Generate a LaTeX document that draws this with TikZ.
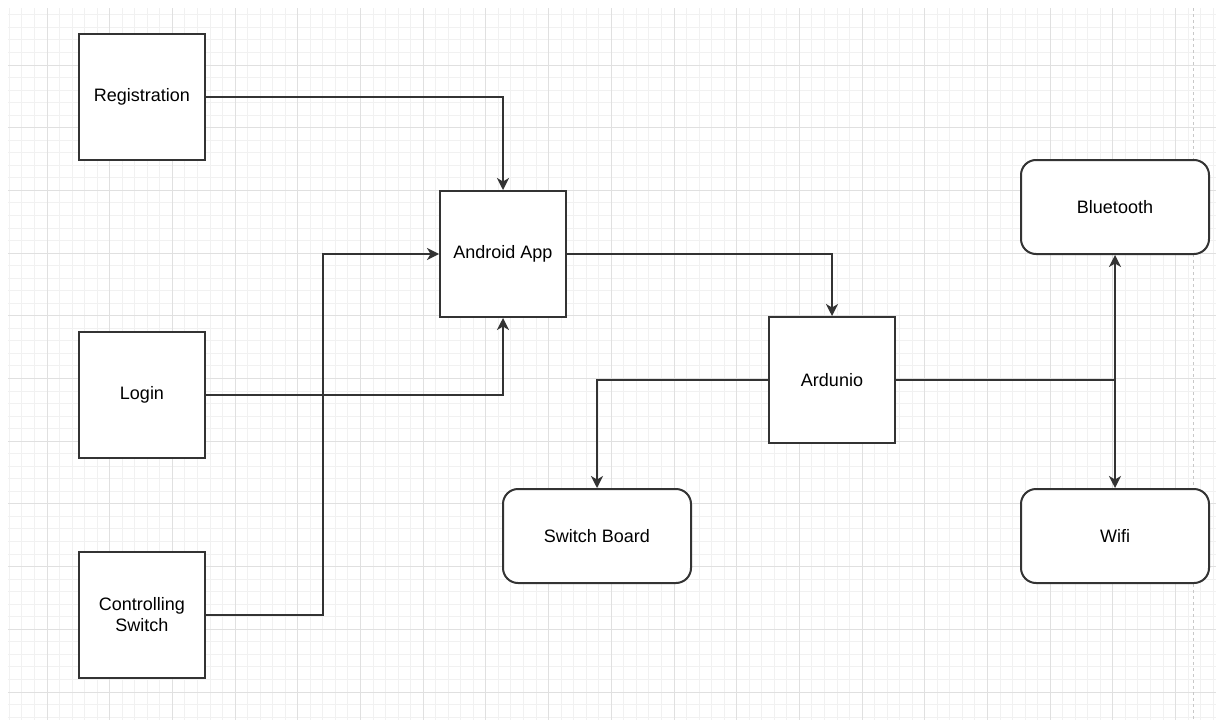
\documentclass[tikz,border=0pt]{standalone}
\usepackage{fontspec}
\setmainfont{Liberation Sans}
\usetikzlibrary{arrows.meta}
\definecolor{minorgrid}{HTML}{F1F1F1}
\definecolor{majorgrid}{HTML}{E0E0E0}
\definecolor{edgecol}{HTML}{333333}
\definecolor{pagedash}{HTML}{C8C8C8}
\tikzset{
  box/.style={draw=edgecol, line width=2pt, fill=white, minimum width=126pt, minimum height=126pt,
    inner sep=0pt, font=\fontsize{18}{21}\selectfont, align=center},
  rbox/.style={box, rounded corners=15pt, minimum width=188pt, minimum height=94pt},
  tip/.tip={Stealth[length=12pt,width=12pt,inset=3.5pt]},
  link/.style={draw=edgecol, line width=1.5pt, -tip},
  plainlink/.style={draw=edgecol, line width=1.5pt},
  bothlink/.style={draw=edgecol, line width=1.5pt, tip-tip},
}
\begin{document}
\begin{tikzpicture}[x=1pt,y=-1pt]
\useasboundingbox (0,0) rectangle (1216,720);
\fill[white] (0,0) rectangle (1216,720);
\begin{scope}
  \clip (8,8) rectangle (1216,720);
  \foreach \i in {-3,...,93} {
    \draw[minorgrid, line width=1pt] ({47+12.54*\i},8) -- ({47+12.54*\i},720);
  }
  \foreach \j in {-5,...,53} {
    \draw[minorgrid, line width=1pt] (8,{65+12.54*\j}) -- (1216,{65+12.54*\j});
  }
  \foreach \i in {0,...,18} {
    \draw[majorgrid, line width=1pt] ({47+62.7*\i},8) -- ({47+62.7*\i},720);
  }
  \foreach \j in {-1,...,10} {
    \draw[majorgrid, line width=1pt] (8,{65+62.7*\j}) -- (1216,{65+62.7*\j});
  }
  \draw[pagedash, line width=1pt, dash pattern=on 3pt off 3pt] (1193,8) -- (1193,720);
\end{scope}

\node[box] (reg) at (142,97) {Registration};
\node[box] (login) at (142,395) {Login};
\node[box] (ctrl) at (142,615) {Controlling\\Switch};
\node[box] (app) at (503,254) {Android App};
\node[box] (ard) at (832,380) {Ardunio};
\node[rbox] (bt) at (1115,207) {Bluetooth};
\node[rbox] (sb) at (597,536) {Switch Board};
\node[rbox] (wifi) at (1115,536) {Wifi};

\draw[link] (reg.east) -| (app.north);
\draw[link] (login.east) -| (app.south);
\draw[link] (ctrl.east) -- ++(117,0) |- (app.west);
\draw[link] (app.east) -| (ard.north);
\draw[link] (ard.west) -| (sb.north);
\coordinate (junc) at (ard.east -| bt.south);
\draw[plainlink] (ard.east) -- (junc);
\draw[bothlink] (bt.south) -- (wifi.north);
\end{tikzpicture}
\end{document}
